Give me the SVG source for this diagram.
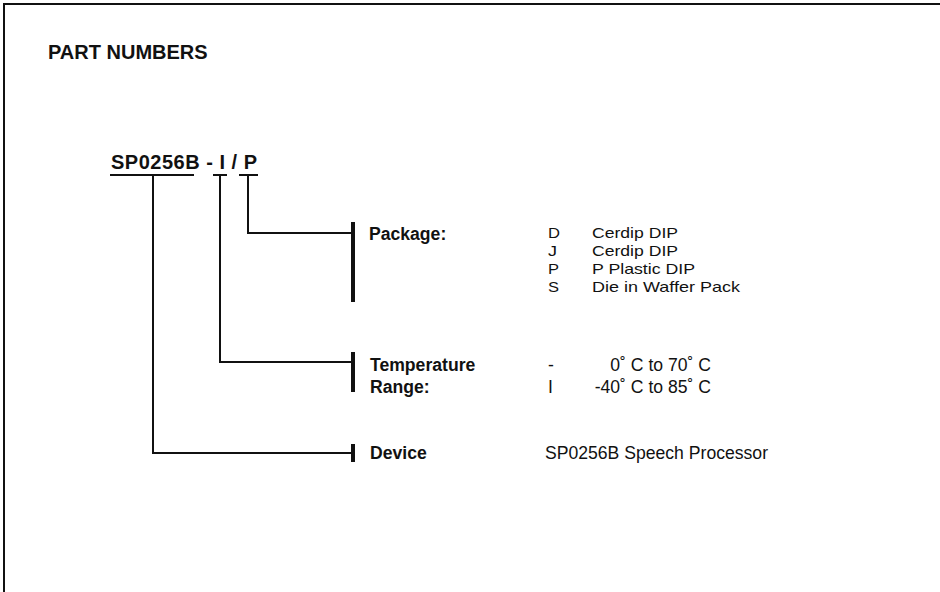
<svg xmlns="http://www.w3.org/2000/svg" width="940" height="592" viewBox="0 0 940 592">
<style>
  .t{font-family:"Liberation Sans",Arial,sans-serif;fill:#111}
  .b{font-weight:bold}
  .r{font-size:17.6px}
  .s{font-size:15px}
  .ln{stroke:#111;stroke-width:2;fill:none}
  .bar{stroke:#111;stroke-width:4;fill:none}
</style>
<rect width="940" height="592" fill="#fff"/>
<path class="ln" d="M4,592 V4 H940" stroke-width="1.5"/>
<text class="t b" x="48" y="59" font-size="20">PART NUMBERS</text>
<g id="partnumber">
  <text class="t b" x="111" y="169" font-size="20" textLength="146" lengthAdjust="spacing">SP0256B - I / P</text>
  <path class="ln" d="M110,175 H194 M213,175 H227 M239,175 H258"/>
</g>
<g id="connectors">
  <path class="ln" d="M248,175 V233 H352"/>
  <path class="ln" d="M220,175 V362 H352"/>
  <path class="ln" d="M153,175 V453 H352"/>
</g>
<g id="package">
  <path class="bar" d="M353,222 V302"/>
  <text class="t b r" x="369" y="240">Package:</text>
  <text class="t s" x="548" y="238" textLength="12" lengthAdjust="spacingAndGlyphs">D</text>
  <text class="t s" x="592" y="238" textLength="86" lengthAdjust="spacingAndGlyphs">Cerdip DIP</text>
  <text class="t s" x="548" y="256" textLength="9" lengthAdjust="spacingAndGlyphs">J</text>
  <text class="t s" x="592" y="256" textLength="86" lengthAdjust="spacingAndGlyphs">Cerdip DIP</text>
  <text class="t s" x="548" y="274" textLength="11" lengthAdjust="spacingAndGlyphs">P</text>
  <text class="t s" x="592" y="274" textLength="103" lengthAdjust="spacingAndGlyphs">P Plastic DIP</text>
  <text class="t s" x="548" y="292" textLength="11" lengthAdjust="spacingAndGlyphs">S</text>
  <text class="t s" x="592" y="292" textLength="148" lengthAdjust="spacingAndGlyphs">Die in Waffer Pack</text>
</g>
<g id="temperature">
  <path class="bar" d="M353,352 V392"/>
  <text class="t b r" x="370" y="371">Temperature</text>
  <text class="t b r" x="370" y="393">Range:</text>
  <text class="t r" x="548" y="371">-</text>
  <text class="t r" x="711" y="371" text-anchor="end">0˚ C to 70˚ C</text>
  <text class="t r" x="548" y="393">I</text>
  <text class="t r" x="711" y="393" text-anchor="end">-40˚ C to 85˚ C</text>
</g>
<g id="device">
  <path class="bar" d="M353,444 V462"/>
  <text class="t b r" x="370" y="459">Device</text>
  <text class="t r" x="545" y="459">SP0256B Speech Processor</text>
</g>
</svg>
